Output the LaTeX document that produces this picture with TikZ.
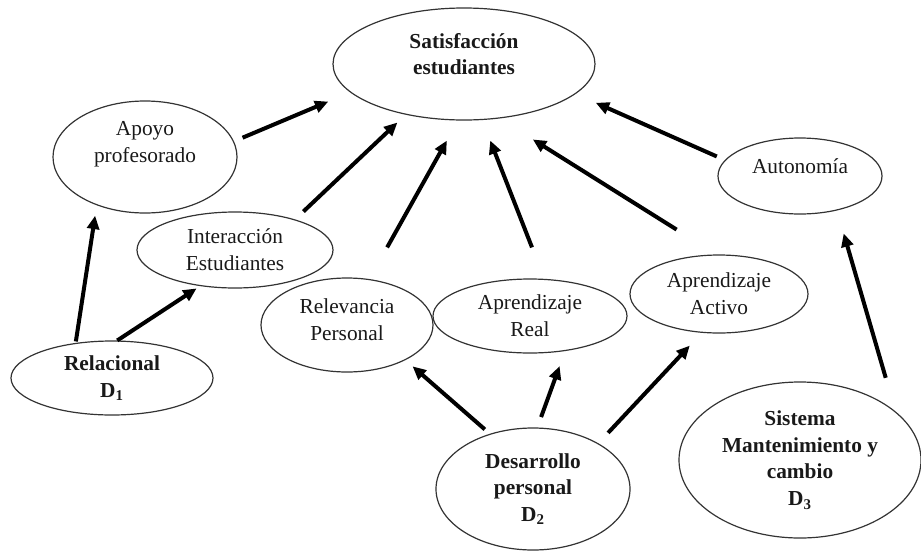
\documentclass[tikz,border=0pt]{standalone}
\usepackage{fontspec}
\setmainfont{Liberation Serif}
\usetikzlibrary{shapes.geometric,arrows.meta}
\begin{document}
\begin{tikzpicture}[x=0.75pt,y=-0.75pt,
  oval/.style={ellipse,draw=black!80,line width=0.9pt,inner sep=0pt,align=center,
    font=\fontsize{16}{20}\selectfont,text=black!90},
  bold/.style={font=\fontsize{16}{20}\selectfont\bfseries},
  txt/.style={align=center,font=\fontsize{16}{20}\selectfont,text=black!90,inner sep=0pt},
  btxt/.style={txt,font=\fontsize{16}{20}\selectfont\bfseries},
  arr/.style={line width=3pt,black,-{Triangle[length=10pt,width=9pt]}}]
\useasboundingbox (0,0) rectangle (921,554);

% nodes
\node[oval,minimum width=196.5pt,minimum height=84pt,
  label={[btxt,name=satT,yshift=7.5pt]center:Satisfacción\\estudiantes}] (sat) at (464,64) {};
\node[oval,minimum width=138pt,minimum height=84pt,
  label={[txt,name=apoyoT,yshift=9.75pt]center:Apoyo\\profesorado}] (apoyo) at (145,157) {};
\node[oval,minimum width=147pt,minimum height=57pt] (inter) at (235,250) {Interacción\\Estudiantes};
\node[oval,minimum width=129pt,minimum height=70.5pt,
  label={[txt,name=relevT,yshift=3.75pt]center:Relevancia\\Personal}] (relev) at (347,325) {};
\node[oval,minimum width=145.5pt,minimum height=55.5pt] (real) at (530,316) {Aprendizaje\\Real};
\node[oval,minimum width=133.5pt,minimum height=58.5pt] (activo) at (719,294) {Aprendizaje\\Activo};
\node[oval,minimum width=123pt,minimum height=57pt,
  label={[txt,name=autoT,yshift=7.5pt]center:Autonomía}] (auto) at (800,176) {};
\node[oval,bold,minimum width=151.5pt,minimum height=55.5pt] (rel) at (112,378) {Relacional\\D\textsubscript{1}};
\node[oval,bold,minimum width=145.5pt,minimum height=91.5pt] (des) at (533,489) {Desarrollo\\personal\\D\textsubscript{2}};
\node[oval,bold,minimum width=181.5pt,minimum height=117pt] (sis) at (800,460) {Sistema\\Mantenimiento y\\cambio\\D\textsubscript{3}};

% connectors
\draw[arr,shorten <=7pt,shorten >=17.8pt] (apoyo.10) -- (sat.194);
\draw[arr,shorten <=8.6pt,shorten >=8.5pt] (inter.27) -- (sat.221);
\draw[arr,shorten <=27.2pt,shorten >=17.2pt] (relev.64) -- (sat.264);
\draw[arr,shorten <=25.3pt,shorten >=16.5pt] (real.69) -- (sat.288);
\draw[arr,shorten <=35.1pt,shorten >=29.6pt] (activo.94) -- (sat.303);
\draw[arr,shorten <=6.6pt,shorten >=16.5pt] (auto.168) -- (sat.345);
\draw[arr,shorten <=26.2pt,shorten >=17.9pt] (sis.27) -- (auto.317);
\draw[arr,shorten <=1.1pt,shorten >=7.9pt] (rel.136) -- (apoyo.225);
\draw[arr,shorten >=3.2pt] (rel.82) -- (inter.226);
\draw[arr,shorten <=5pt,shorten >=7.1pt] (des.128) -- (relev.329);
\draw[arr,shorten <=8.3pt,shorten >=12pt] (des.86) -- (real.315);
\draw[arr,shorten <=10.7pt,shorten >=13.1pt] (des.35) -- (activo.246);
\end{tikzpicture}
\end{document}
